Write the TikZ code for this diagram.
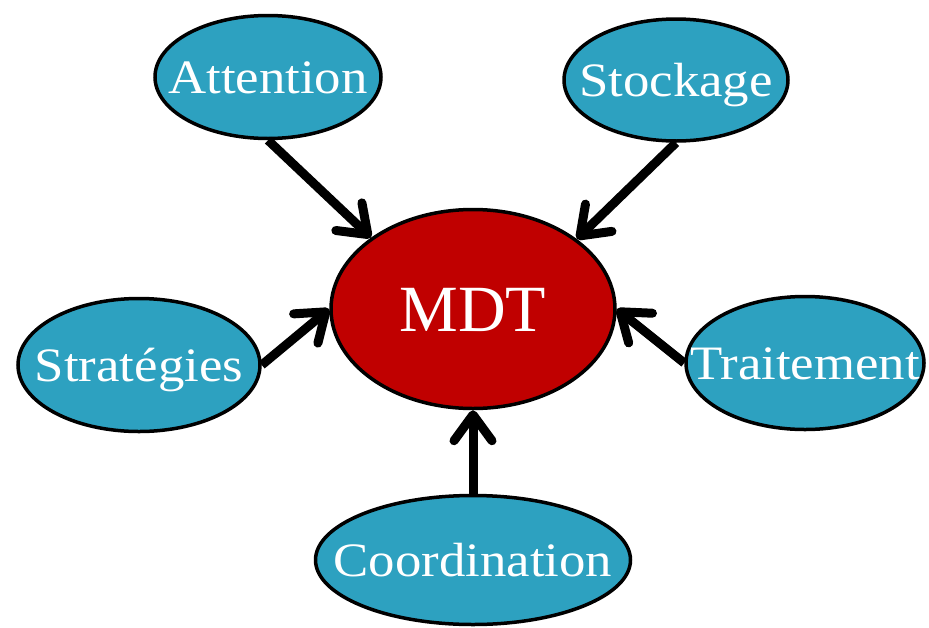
\documentclass[tikz,border=0pt]{standalone}
\usepackage{fontspec}
\setmainfont{Liberation Serif}
\newfontfamily\widefont[FakeStretch=1.1]{Liberation Serif}
\usetikzlibrary{shapes.geometric,arrows.meta}
\definecolor{bubbleblue}{RGB}{45,161,192}
\definecolor{mdtred}{RGB}{192,0,0}
\newcommand*{\bubbletext}[1]{{\widefont\fontsize{48}{50}\selectfont #1}}

\begin{document}
\begin{tikzpicture}[x=1pt, y=-1pt,
    bubble/.style={ellipse, draw, line width=3.5pt, fill=bubbleblue, inner sep=0pt},
    inside/.style={text=white, inner sep=0pt, text depth=0pt},
    arr/.style={line width=9pt, -{Straight Barb[length=26pt, width=38pt, round]}}]
  \useasboundingbox (0,0) rectangle (929,627);

  \foreach \name/\txt/\x/\y/\w/\h in {att/Attention/268/77/226/123,
      sto/Stockage/676/80/224/122,
      str/Stratégies/139/365/242/133,
      tra/Traitement/805/363/238/133,
      coo/Coordination/473/560/315/129}
  {
    \node[bubble, minimum width=\w pt, minimum height=\h pt,
      label={[inside, text height=32pt]center:\bubbletext{\txt}}] (\name) at (\x,\y) {};
  }

  \node[bubble, fill=mdtred, minimum width=284pt, minimum height=199pt,
    label={[inside, text height=44pt]center:{\fontsize{66}{70}\selectfont MDT}}] (mdt) at (473,309) {};

  \draw[arr] (att.south) -- (mdt.145);
  \draw[arr] (sto.south) -- (mdt.34);
  \draw[arr] (str.east) -- (mdt.west);
  \draw[arr] (tra.west) -- (mdt.east);
  \draw[arr] (coo.north) -- (mdt.south);
\end{tikzpicture}
\end{document}
